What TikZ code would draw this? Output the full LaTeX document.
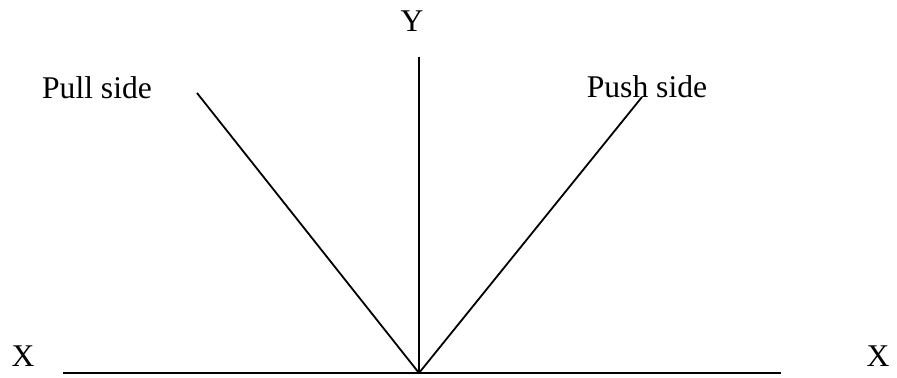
\documentclass[tikz,border=0pt]{standalone}
\usepackage{fontspec}
\setmainfont{Liberation Serif}
\begin{document}
\begin{tikzpicture}[x=0.5pt,y=-0.5pt,
  lbl/.style={anchor=base,inner sep=0pt,font=\fontsize{15.8}{19}\selectfont},
  ln/.style={line width=0.9pt}]
\useasboundingbox (0,0) rectangle (897,378);
\coordinate (o) at (419,373);
\coordinate (top) at (419,57);
\coordinate (pl) at (197,93);
\coordinate (ps) at (642,97);
\coordinate (xl) at (63,373);
\coordinate (xr) at (781,373);
\draw[ln] (xl) -- (xr);
\draw[ln] (o) -- (top);
\draw[ln] (o) -- (pl);
\draw[ln] (o) -- (ps);
\node[lbl] (ylab) at (412,32) {Y};
\node[lbl] (xlab1) at (23,366) {X};
\node[lbl] (xlab2) at (878,366) {X};
\node[lbl] (pull) at (97,99) {Pull side};
\node[lbl] (push) at (647,98) {Push side};
\end{tikzpicture}
\end{document}
